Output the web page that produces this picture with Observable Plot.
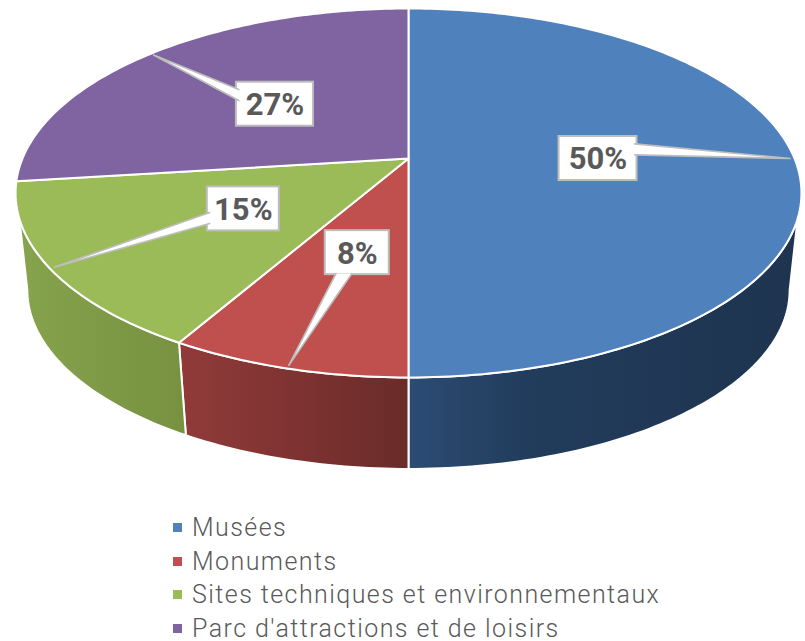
<!DOCTYPE html>
<html lang="fr">
<head>
<meta charset="utf-8">
<script src="https://cdn.jsdelivr.net/npm/d3@7"></script>
<script src="https://cdn.jsdelivr.net/npm/@observablehq/plot@0.6"></script>
<style>
  html, body { margin: 0; padding: 0; background: #fff; }
  #legend { position: absolute; left: 173px; top: 511px; font-family: Roboto, sans-serif; font-weight: 300;
    font-size: 25px; letter-spacing: 1.43px; color: #595959; }
  #legend div { height: 33.5px; line-height: 33.5px; white-space: nowrap; display: flex; align-items: center; }
  #legend i { display: inline-block; width: 9px; height: 9px; margin-right: 10px; }
</style>
</head>
<body>
<div id="chart"></div>
<div id="legend"></div>
<script>
// Data
const categories = ["Musées", "Monuments", "Sites techniques et environnementaux", "Parc d'attractions et de loisirs"];
const shares = [50, 8.3, 14.7, 27];

// Styles
const topColors = ["#4f81bd", "#c0504d", "#9bbb59", "#8064a2"];
const sideStops = [
  [[0, "#2c4c73"], [0.3, "#223c5c"], [1, "#1e344f"]],
  [[0, "#913b3a"], [1, "#6a2b29"]],
  [[0, "#86a34d"], [1, "#779140"]],
  [[0, "#6b5288"], [1, "#5a4573"]]
];

// Layout of the perspective disc, in px per disc unit
const W = 805, H = 500, apexX = 408, apexY = 158;
const unitX = 386, unitY = 178, persp = 0.187;
const lowerScale = 0.97, lowerDrop = 0.551;
const silhouetteTop = 18.5, silhouetteLow = 10.8; // degrees below the horizontal
const tipRadius = 0.99;
const labelReachX = [0.496, 0.427, 0.466, 0.523];
const labelReachY = [0.496, 0.454, 0.463, 0.523];
const boxWidths = [78, 64, 72, 77], boxH = 44;

const project = (deg, r = 1, s = 1, drop = 0) => {
  const t = deg * Math.PI / 180, X = r * Math.sin(t), Y = -r * Math.cos(t), d = 1 - persp * Y;
  return {x: s * X / d, y: drop + s * Y / d};
};
const arc = (a, b, s, drop) => {
  const n = Math.max(2, Math.ceil(Math.abs(b - a)));
  return d3.range(n + 1).map(i => project(a + (b - a) * i / n, 1, s, drop));
};

let cum = 0;
const slices = shares.map((v, i) => {
  const a0 = cum * 3.6; cum += v; const a1 = cum * 3.6;
  return {i, a0, a1, mid: (a0 + a1) / 2, label: Math.round(v) + "%"};
});

const topPoly = s => [{x: 0, y: 0}, ...arc(s.a0, s.a1, 1, 0), {x: 0, y: 0}];
const sidePoly = s => {
  const t0 = Math.max(s.a0, 90 + silhouetteTop), t1 = Math.min(s.a1, 270 - silhouetteTop);
  const l0 = Math.max(s.a0, 90 + silhouetteLow), l1 = Math.min(s.a1, 270 - silhouetteLow);
  if (t0 >= t1) return null;
  const top = arc(t0, t1, 1, 0), low = arc(l1, l0, lowerScale, lowerDrop);
  return [...top, ...low, top[0]];
};

const callouts = slices.map(s => {
  const tip = project(s.mid, tipRadius);
  const cx = tip.x * labelReachX[s.i], cy = tip.y * labelReachY[s.i];
  const hw = boxWidths[s.i] / 2 / unitX, hh = boxH / 2 / unitY;
  const dx = tip.x - cx, dy = tip.y - cy;
  let p, q;
  const horizontal = Math.abs(dx) / hw > Math.abs(dy) / hh;
  const inset = 0.012;
  if (horizontal) {
    const ex = Math.sign(dx) * (hw - inset / 2);
    const [f0, f1] = dy > 0.02 ? [7 / 12, 5 / 6] : [1 / 6, 5 / 12];
    p = {x: cx + ex, y: cy - hh + 2 * hh * f0};
    q = {x: cx + ex, y: cy - hh + 2 * hh * f1};
  } else {
    const ey = Math.sign(dy) * (hh - inset / 2);
    const [f0, f1] = dx > 0 ? [7 / 12, 5 / 6] : [1 / 6, 5 / 12];
    p = {x: cx - hw + 2 * hw * f0, y: cy + ey};
    q = {x: cx - hw + 2 * hw * f1, y: cy + ey};
  }
  return {...s, tip, cx, cy, hw, hh, wedge: [p, tip, q]};
});

const defs = () => {
  const d = d3.create("svg:defs");
  sideStops.forEach((stops, i) => {
    const g = d.append("linearGradient").attr("id", "side" + i).attr("x1", 0).attr("x2", 1).attr("y1", 0).attr("y2", 0);
    stops.forEach(([o, c]) => g.append("stop").attr("offset", o).attr("stop-color", c));
  });
  return d.node();
};

const polygon = (pts, fill) => Plot.line(pts, {x: "x", y: "y", fill, stroke: "white", strokeWidth: 2, strokeLinejoin: "round", curve: "linear"});

const marks = [
  defs,
  ...slices.filter(s => sidePoly(s)).map(s => polygon(sidePoly(s), `url(#side${s.i})`)),
  ...slices.map(s => polygon(topPoly(s), topColors[s.i])),
  Plot.rect(callouts, {x1: d => d.cx - d.hw, x2: d => d.cx + d.hw, y1: d => d.cy - d.hh, y2: d => d.cy + d.hh,
    fill: "white", stroke: "#bdbdbd", strokeWidth: 2}),
  ...callouts.map(c => Plot.line(c.wedge, {x: "x", y: "y", fill: "white", stroke: "#bdbdbd", strokeWidth: 1.6, curve: "linear", strokeLinejoin: "miter"})),
  Plot.text(callouts, {x: "cx", y: "cy", text: "label", fontSize: 31, fontWeight: 700, fontFamily: "Roboto", fill: "#595959", textAnchor: "middle", lineAnchor: "middle", dy: 1})
];

const chart = Plot.plot({
  width: W, height: H, margin: 0,
  x: {domain: [-apexX / unitX, (W - apexX) / unitX], range: [0, W], axis: null},
  y: {domain: [-apexY / unitY, (H - apexY) / unitY], range: [0, H], axis: null},
  style: {background: "white"},
  marks
});
document.getElementById("chart").appendChild(chart);

const legend = document.getElementById("legend");
categories.forEach((c, i) => {
  const row = document.createElement("div");
  const sw = document.createElement("i");
  sw.style.background = topColors[i];
  row.appendChild(sw);
  row.appendChild(document.createTextNode(c));
  legend.appendChild(row);
});
</script>
</body>
</html>
